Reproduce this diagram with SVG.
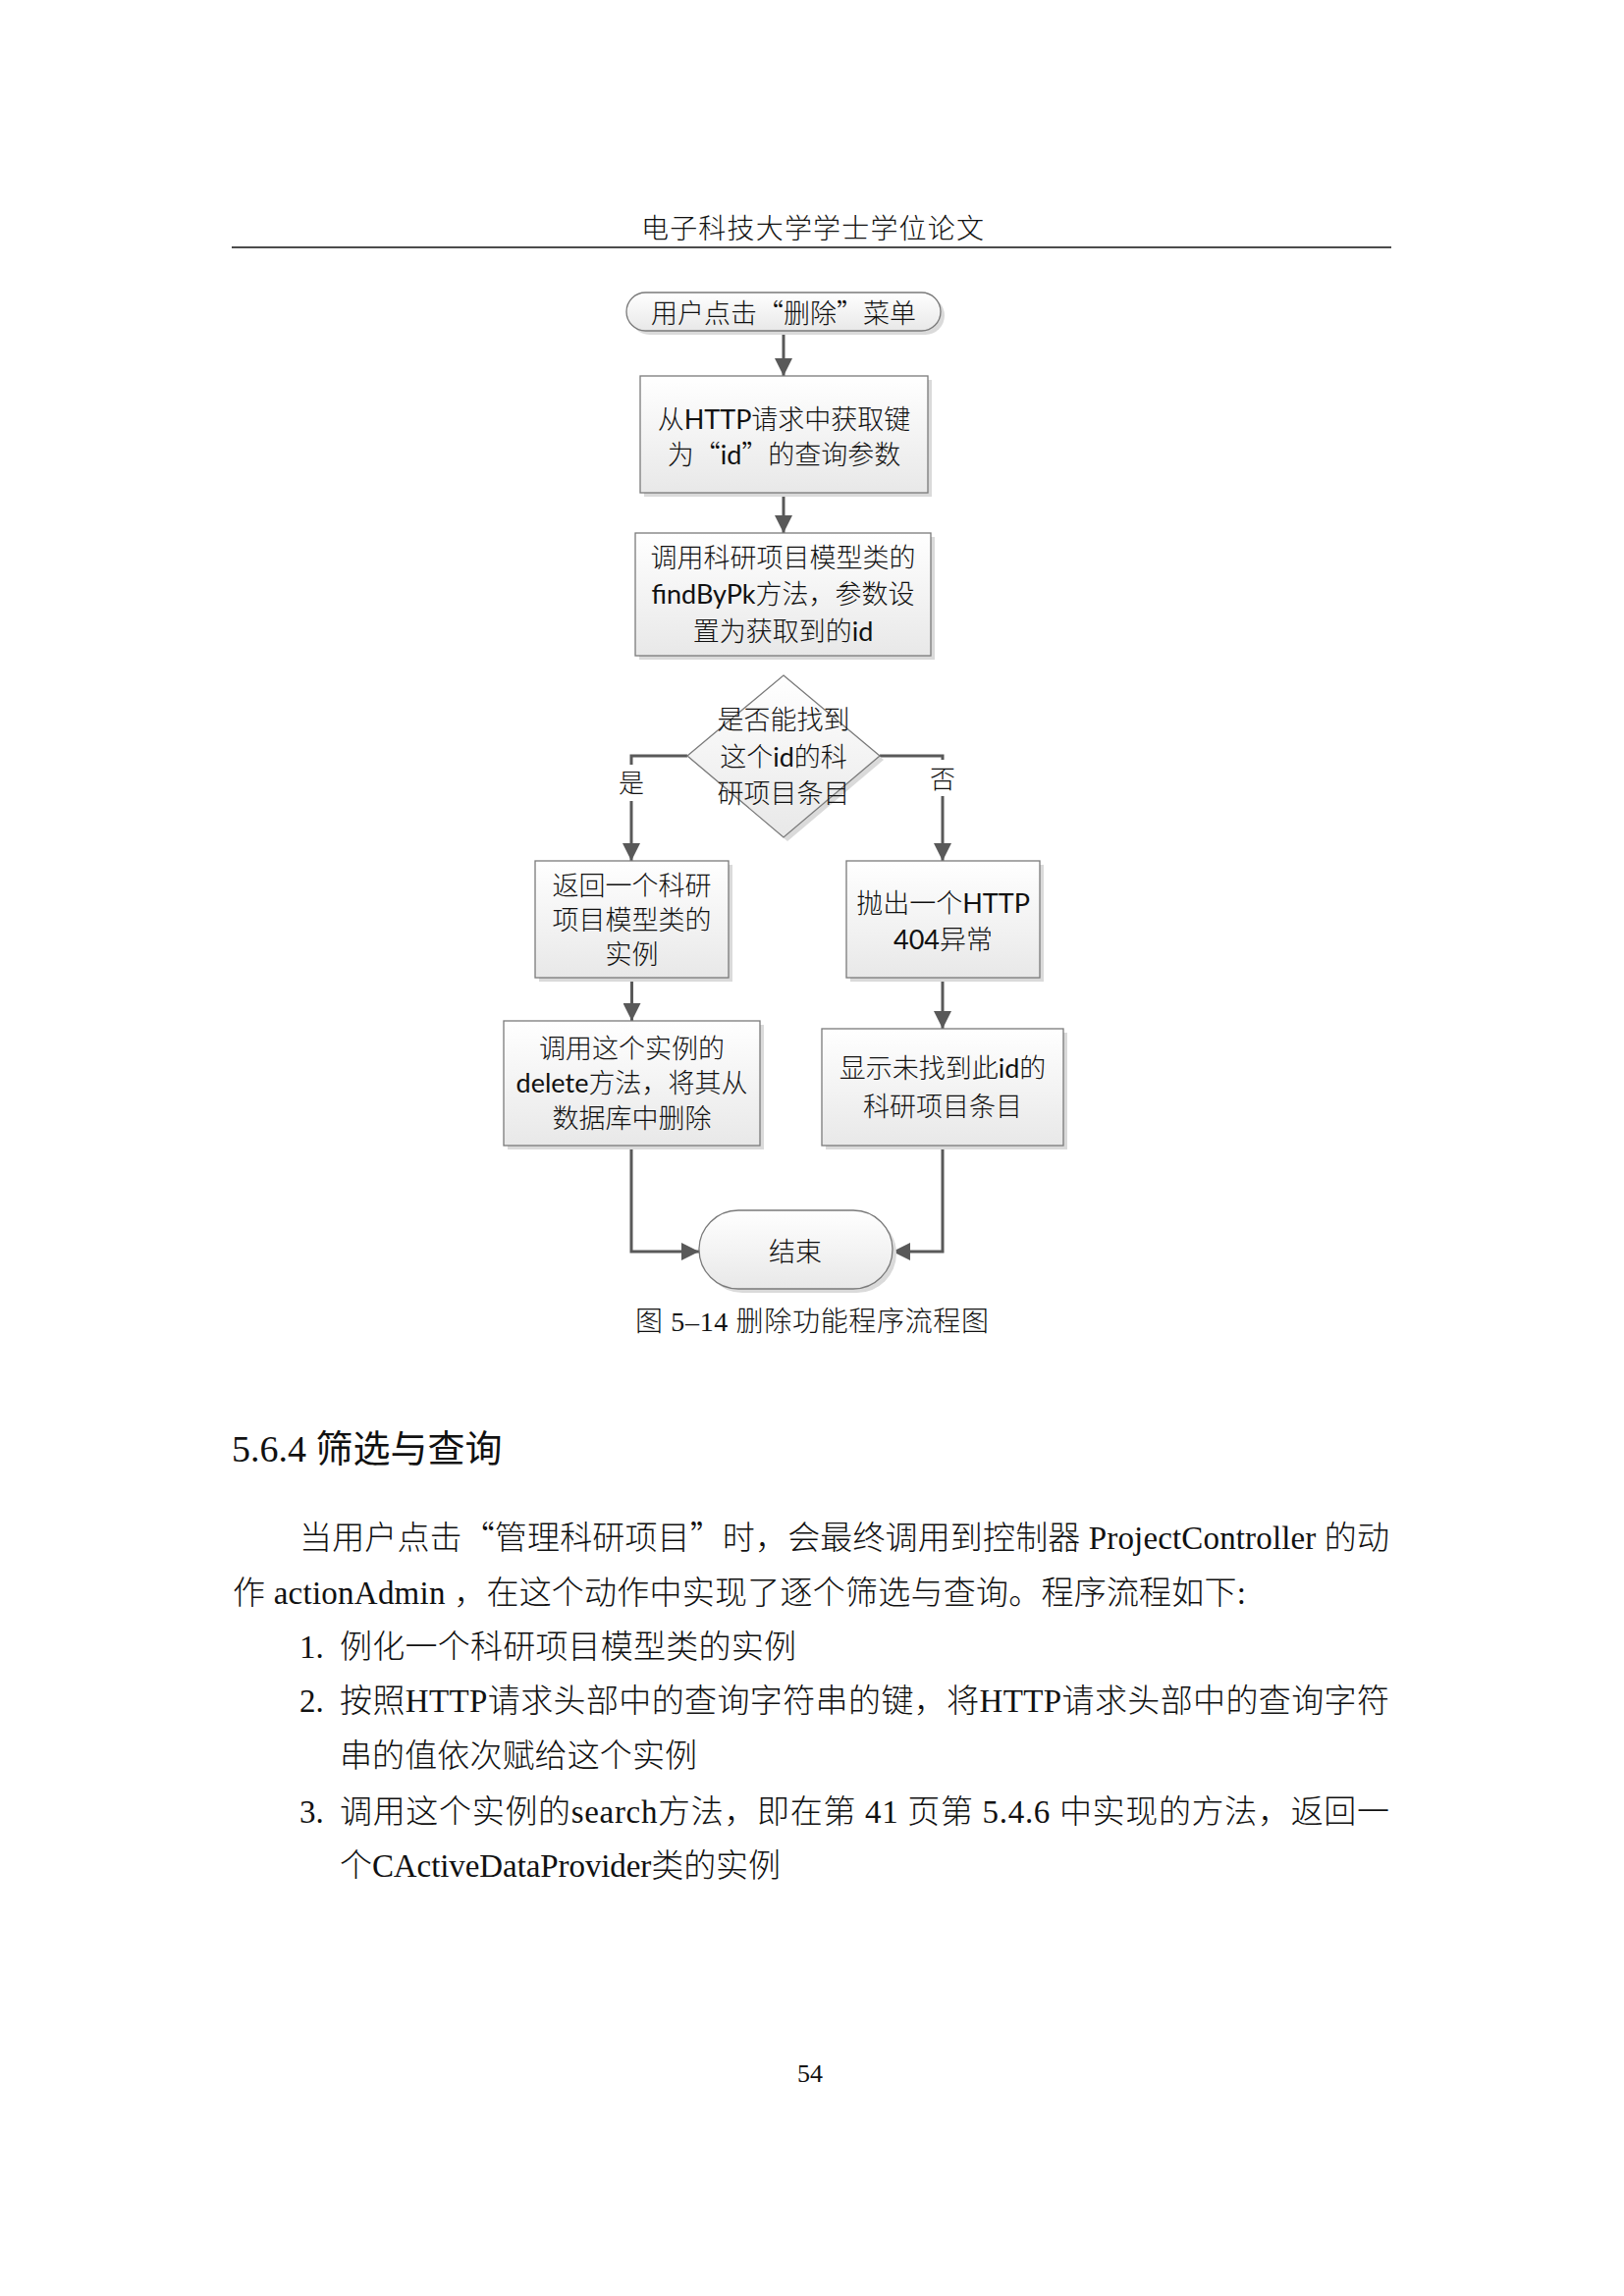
<svg xmlns="http://www.w3.org/2000/svg" width="1654" height="2339" viewBox="0 0 1654 2339">
<style>
.node{fill:url(#g);stroke:#7a7a7a;stroke-width:1.3}
.sh{fill:#dadada}
.ft{font-family:Lato,"Noto Sans CJK SC",sans-serif;font-size:27px;fill:#111;text-anchor:middle;font-weight:300}
.lt{font-weight:400}
.cj{font-family:"Noto Sans CJK SC",sans-serif}
.lab{font-family:"Liberation Serif","Noto Sans CJK SC",serif;font-size:26px;fill:#111;text-anchor:middle;font-weight:300}
.body{font-family:"Liberation Serif","Noto Sans CJK SC",serif;font-size:33px;fill:#111;font-weight:300}
.conn{fill:none;stroke:#595959;stroke-width:3}
</style>
<defs>
<linearGradient id="g" x1="0" y1="0" x2="0" y2="1">
<stop offset="0" stop-color="#ffffff"/>
<stop offset="1" stop-color="#e8e8e8"/>
</linearGradient>
<marker id="ah" viewBox="0 0 10 10" refX="10" refY="5" markerUnits="userSpaceOnUse" markerWidth="19" markerHeight="18" orient="auto">
<path d="M0,0 L10,5 L0,10 z" fill="#595959"/>
</marker>
</defs>
<rect width="1654" height="2339" fill="#ffffff"/>

<g id="page-header">
<text x="653" y="243" textLength="349" class="body" style="font-size:28px">电子科技大学学士学位论文</text>
<line x1="236" y1="252" x2="1417" y2="252" stroke="#111" stroke-width="1.5"/>
</g>

<g id="connectors">
<path class="conn" d="M798,337 V383" marker-end="url(#ah)"/>
<path class="conn" d="M798,502 V543" marker-end="url(#ah)"/>
<path class="conn" d="M700,770 H643 V779"/>
<path class="conn" d="M643,816 V877" marker-end="url(#ah)"/>
<path class="conn" d="M896,770 H960 V774"/>
<path class="conn" d="M960,811 V877" marker-end="url(#ah)"/>
<path class="conn" d="M643.5,996 V1040" marker-end="url(#ah)"/>
<path class="conn" d="M960,996 V1048" marker-end="url(#ah)"/>
<path class="conn" d="M643,1167 V1275 H712" marker-end="url(#ah)"/>
<path class="conn" d="M960,1167 V1275 H909" marker-end="url(#ah)"/>
<text class="lab" x="643" y="807">是</text>
<text class="lab" x="960" y="803">否</text>
</g>

<g id="start">
<rect class="sh" x="642" y="302" width="320" height="39" rx="19.5"/>
<rect class="node" x="638" y="298" width="320" height="39" rx="19.5"/>
<text class="ft" x="798" y="329">用户点击<tspan class="cj">“</tspan>删除<tspan class="cj">”</tspan>菜单</text>
</g>

<g id="get-id">
<rect class="sh" x="656" y="387" width="293" height="119"/>
<rect class="node" x="652" y="383" width="293" height="119"/>
<text class="ft" x="798.5" y="437">从<tspan class="lt">HTTP</tspan>请求中获取键</text>
<text class="ft" x="798.5" y="473">为<tspan class="cj">“</tspan><tspan class="lt">id</tspan><tspan class="cj">”</tspan>的查询参数</text>
</g>

<g id="find-by-pk">
<rect class="sh" x="651" y="547" width="301" height="125"/>
<rect class="node" x="647" y="543" width="301" height="125"/>
<text class="ft" x="797.5" y="578">调用科研项目模型类的</text>
<text class="ft" x="797.5" y="615"><tspan class="lt">findByPk</tspan>方法，参数设</text>
<text class="ft" x="797.5" y="653">置为获取到的<tspan class="lt">id</tspan></text>
</g>

<g id="decision">
<polygon class="sh" points="802,692 900,774 802,857 704,774"/>
<polygon class="node" points="798,688 896,770 798,853 700,770"/>
<text class="ft" x="798" y="743">是否能找到</text>
<text class="ft" x="798" y="781">这个<tspan class="lt">id</tspan>的科</text>
<text class="ft" x="798" y="818">研项目条目</text>
</g>

<g id="return-instance">
<rect class="sh" x="549" y="881" width="197" height="119"/>
<rect class="node" x="545" y="877" width="197" height="119"/>
<text class="ft" x="643.5" y="912">返回一个科研</text>
<text class="ft" x="643.5" y="947">项目模型类的</text>
<text class="ft" x="643.5" y="982">实例</text>
</g>

<g id="throw-404">
<rect class="sh" x="866" y="881" width="197" height="119"/>
<rect class="node" x="862" y="877" width="197" height="119"/>
<text class="ft" x="960.5" y="930">抛出一个<tspan class="lt">HTTP</tspan></text>
<text class="ft" x="960.5" y="967"><tspan class="lt">404</tspan>异常</text>
</g>

<g id="call-delete">
<rect class="sh" x="517" y="1044" width="261" height="127"/>
<rect class="node" x="513" y="1040" width="261" height="127"/>
<text class="ft" x="643.5" y="1078">调用这个实例的</text>
<text class="ft" x="643.5" y="1113"><tspan class="lt">delete</tspan>方法，将其从</text>
<text class="ft" x="643.5" y="1149">数据库中删除</text>
</g>

<g id="show-not-found">
<rect class="sh" x="841" y="1052" width="246" height="119"/>
<rect class="node" x="837" y="1048" width="246" height="119"/>
<text class="ft" x="960" y="1098">显示未找到此<tspan class="lt">id</tspan>的</text>
<text class="ft" x="960" y="1137">科研项目条目</text>
</g>

<g id="end">
<rect class="sh" x="716" y="1237" width="197" height="80" rx="40"/>
<rect class="node" x="712" y="1233" width="197" height="80" rx="40"/>
<text class="ft" x="810" y="1285">结束</text>
</g>

<g id="caption">
<text class="body" x="647" y="1356" textLength="360" style="font-size:28px">图 5–14 删除功能程序流程图</text>
</g>

<g id="body-text">
<text x="236" y="1489" style="font-family:'Liberation Serif',serif;font-size:38px;fill:#111">5.6.4 <tspan style="font-family:'Noto Sans CJK SC',sans-serif">筛选与查询</tspan></text>
<text class="body" x="305" y="1578" textLength="1110" lengthAdjust="spacing">当用户点击<tspan class="cj">“</tspan>管理科研项目<tspan class="cj">”</tspan>时，会最终调用到控制器 ProjectController 的动</text>
<text class="body" x="237" y="1634" textLength="1032" lengthAdjust="spacing">作 actionAdmin ，在这个动作中实现了逐个筛选与查询。程序流程如下:</text>
<text class="body" x="305" y="1689">1.</text>
<text class="body" x="346" y="1689" textLength="465">例化一个科研项目模型类的实例</text>
<text class="body" x="305" y="1744">2.</text>
<text class="body" x="346" y="1744" textLength="1069">按照HTTP请求头部中的查询字符串的键，将HTTP请求头部中的查询字符</text>
<text class="body" x="346" y="1800" textLength="364">串的值依次赋给这个实例</text>
<text class="body" x="305" y="1857">3.</text>
<text class="body" x="346" y="1857" textLength="1069">调用这个实例的search方法，即在第 41 页第 5.4.6 中实现的方法，返回一</text>
<text class="body" x="346" y="1912" textLength="449">个CActiveDataProvider类的实例</text>
</g>

<g id="page-number">
<text x="825" y="2121" text-anchor="middle" style="font-family:'Liberation Serif',serif;font-size:26px;fill:#111">54</text>
</g>
</svg>
